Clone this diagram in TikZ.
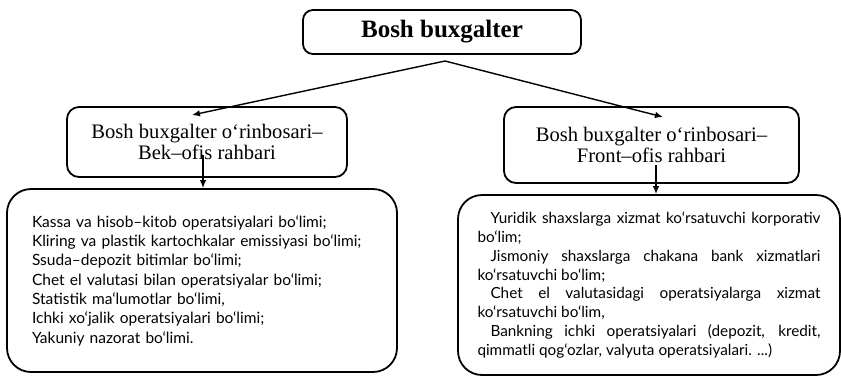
\documentclass[tikz,border=0pt]{standalone}
\usepackage{fontspec}
\setmainfont{Liberation Serif}
\newfontfamily\listfont{Lato}
\usetikzlibrary{arrows.meta}
\begin{document}
\begin{tikzpicture}[x=1pt,y=-1pt,
  box/.style={draw, line width=1.8pt, rounded corners=#1, inner sep=0pt, align=center},
  link/.style={line width=1.4pt, -{Latex[length=8pt,width=6.5pt]}},
  listtext/.style={font=\listfont\fontsize{15.5}{19.3}\selectfont}]
\useasboundingbox (0,0) rectangle (841,376);

% head of the department
\node[box=10pt, minimum width=278pt, minimum height=44pt,
      font=\fontsize{25}{27}\selectfont\bfseries] (chief) at (442,32) {Bosh buxgalter};

% the two deputies
\node[box=12pt, minimum width=280pt, minimum height=70pt,
      font=\fontsize{20.6}{21.5}\selectfont] (back) at (207,142)
  {Bosh buxgalter o‘rinbosari–\\Bek–ofis rahbari};
\node[box=12pt, minimum width=295pt, minimum height=76pt,
      font=\fontsize{20.6}{21.5}\selectfont] (front) at (651.5,145)
  {Bosh buxgalter o‘rinbosari–\\Front–ofis rahbari};

% their divisions
\node[box=24pt, minimum width=390pt, minimum height=183pt, inner xsep=25pt,
      text width=340pt, align=left, listtext] (backlist) at (202,280.5)
  {Kassa va hisob–kitob operatsiyalari bo‘limi;\\
   Kliring va plastik kartochkalar emissiyasi bo‘limi;\\
   Ssuda–depozit bitimlar bo‘limi;\\
   Chet el valutasi bilan operatsiyalar bo‘limi;\\
   Statistik ma‘lumotlar bo‘limi,\\
   Ichki xo‘jalik operatsiyalari bo‘limi;\\
   Yakuniy nazorat bo‘limi.};

\node[box=24pt, minimum width=382pt, minimum height=180pt,
      text width=343pt, align=justify, font=\listfont\fontsize{15.3}{18.8}\selectfont] (frontlist) at (649,285)
  {\hspace*{13pt}Yuridik shaxslarga xizmat ko‘rsatuvchi korporativ\linebreak bo‘lim;\par
   \hspace*{13pt}Jismoniy shaxslarga chakana bank xizmatlari\linebreak ko‘rsatuvchi bo‘lim;\par
   \hspace*{13pt}Chet el valutasidagi operatsiyalarga xizmat\linebreak ko‘rsatuvchi bo‘lim,\par
   \hspace*{13pt}Bankning ichki operatsiyalari (depozit, kredit,\linebreak qimmatli qog‘ozlar, valyuta operatsiyalari. ...)\par};

% connectors
\coordinate (apex) at (445,61);
\coordinate (tipback) at (192,115);
\coordinate (tipfront) at (663,117);
\coordinate (stemback) at (203,155);
\coordinate (stemfront) at (656,165);
\draw[link] (apex) -- (tipback);
\draw[link] (apex) -- (tipfront);
\draw[link] (stemback) -- (stemback |- backlist.north);
\draw[link] (stemfront) -- (stemfront |- frontlist.north);
\end{tikzpicture}
\end{document}
